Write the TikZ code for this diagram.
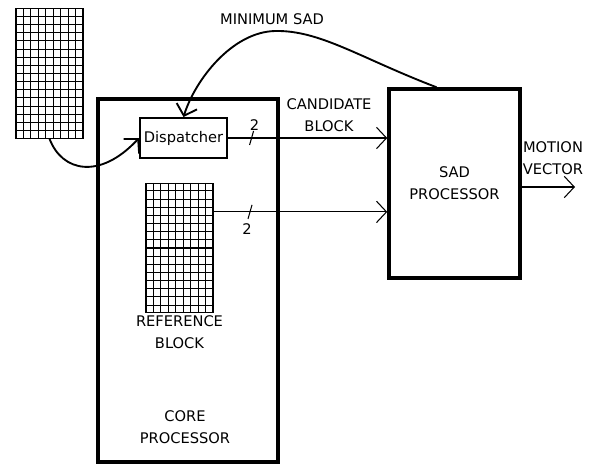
\documentclass[tikz,border=0pt]{standalone}
\usepackage{fontspec}
\setmainfont{DejaVu Sans}
\usetikzlibrary{positioning,arrows.meta,calc}
\tikzset{
  blkbox/.style={draw, line width=3pt, inner sep=0pt},
  dispbox/.style={draw, line width=1.7pt, inner sep=0pt, minimum width=2.61cm, minimum height=1.2cm,
    font=\fontsize{12.5}{19}\selectfont},
  gridbox/.style={draw, line width=0.9pt, inner sep=0pt, minimum width=2.01cm, minimum height=3.88cm},
  gridline/.style={line width=0.9pt},
  sigarrow/.style={-{Straight Barb[length=3mm, width=6.4mm]}, line width=0.9pt},
  fbarrow/.style={-{Straight Barb[length=3mm, width=6.4mm]}, line width=1.6pt},
  busmark/.style={line width=0.9pt},
  txtlabel/.style={align=center, font=\fontsize{12.5}{19}\selectfont, inner sep=1pt},
}

\begin{document}
\begin{tikzpicture}[x=0.03cm, y=-0.03cm]
  \useasboundingbox (0,0) rectangle (590,464);
  % blocks
  \node[blkbox, minimum width=5.4cm, minimum height=10.89cm] (core) at (188,280.5) {};
  \node[blkbox, minimum width=3.93cm, minimum height=5.67cm, txtlabel] (sad) at (454.5,183.5) {SAD\\PROCESSOR};
  \node[dispbox, fill=white] (disp) at (183.5,138) {Dispatcher};
  % pixel grids
  \node[gridbox] (inblk) at (49.5,73.5) {};
  \node[gridbox] (refblk) at (179.5,248) {};
  \foreach \g in {inblk,refblk} {
    \foreach \i in {1,...,8}
      \draw[gridline] ($(\g.north west)!\i/9!(\g.north east)$) -- ($(\g.south west)!\i/9!(\g.south east)$);
    \foreach \j in {1,...,15}
      \draw[gridline] ($(\g.north west)!\j/16!(\g.south west)$) -- ($(\g.north east)!\j/16!(\g.south east)$);
  }
  % labels
  \node[txtlabel, below=1pt of refblk] (reflbl) {REFERENCE\\BLOCK};
  \node[txtlabel] (corelbl) at (185,427) {CORE\\PROCESSOR};
  \node[txtlabel] (candlbl) at (329,115) {CANDIDATE\\BLOCK};
  \node[txtlabel] (mvlbl) at (553,158) {MOTION\\VECTOR};
  \node[txtlabel] (minlbl) at (272,19) {MINIMUM SAD};
  % connections
  \coordinate (refout) at ($(refblk.north east)!0.223!(refblk.south east)$);
  \coordinate (mvend) at (575,187);
  \coordinate (fbstart) at ($(sad.north west)!0.366!(sad.north east)$);
  \draw[sigarrow] (disp.east) -- coordinate[pos=0.148] (cs) (disp.east -| sad.west);
  \draw[sigarrow] (refout) -- coordinate[pos=0.21] (rs) (refout -| sad.west);
  \draw[sigarrow] (sad.east |- mvend) -- (mvend);
  \draw[fbarrow] (inblk.south) .. controls (62,172) and (100,180) .. (disp.west);
  \draw[fbarrow] (fbstart) .. controls (360,58) and (320,30) .. (275,31)
    .. controls (232,32) and (195,80) .. (disp.north);
  % bus width marks
  \foreach \s in {cs,rs}
    \draw[busmark] ($(\s)+(-2,7)$) -- ($(\s)+(2,-7)$);
  \node[txtlabel] (cw) at ($(cs)+(3,-13)$) {2};
  \node[txtlabel] (rw) at ($(rs)+(-3,17)$) {2};
\end{tikzpicture}
\end{document}
